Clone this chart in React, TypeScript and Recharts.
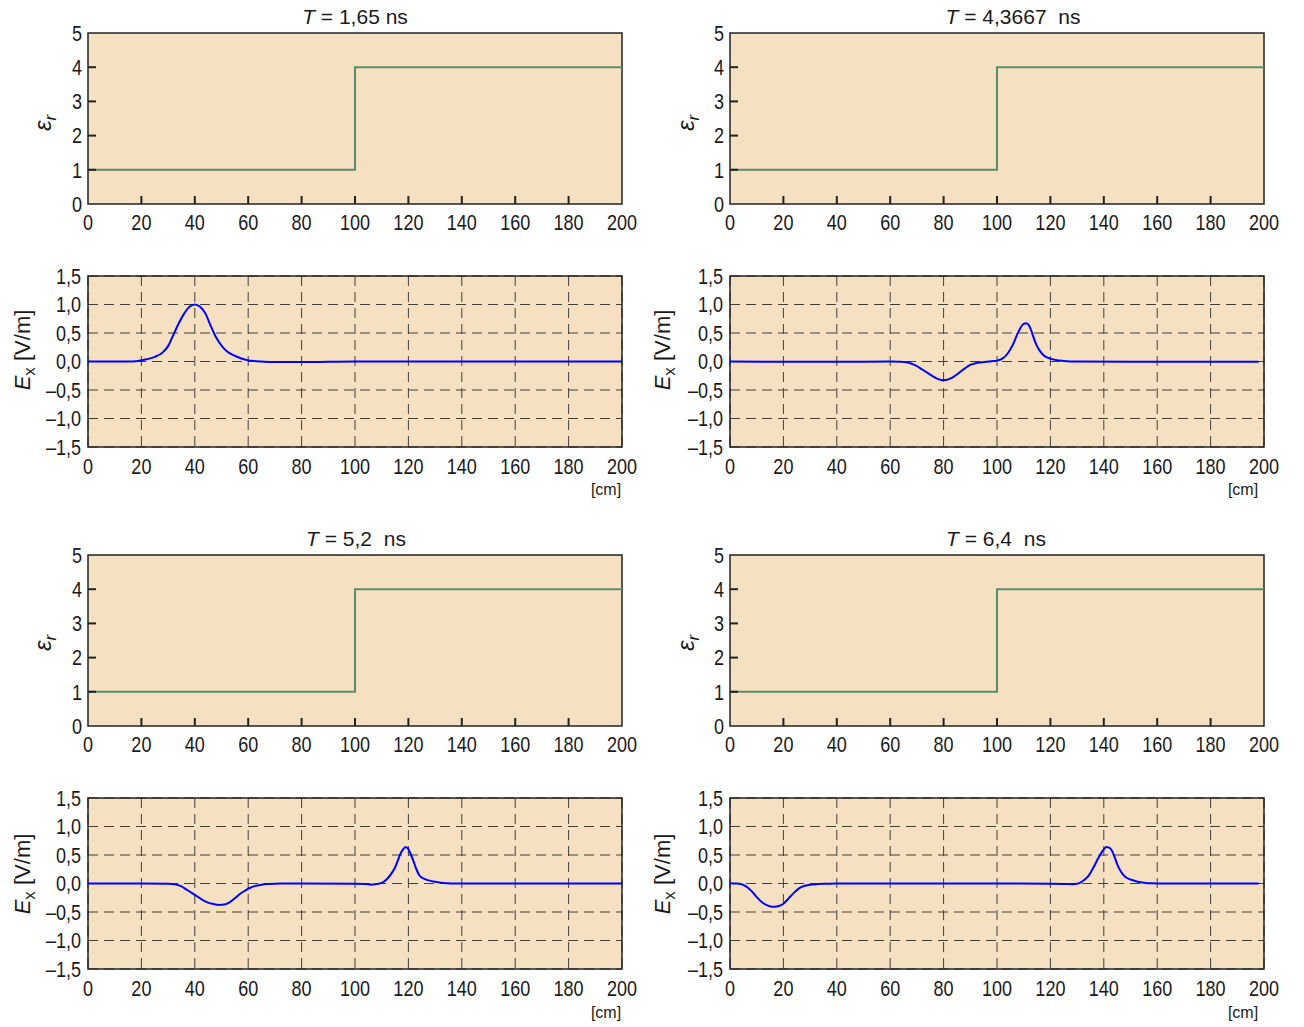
import React from 'react';
import { LineChart, Line, XAxis, YAxis, CartesianGrid, ReferenceArea } from 'recharts';

// axis ticks
const xTicks = [0, 20, 40, 60, 80, 100, 120, 140, 160, 180, 200];
const epsTicks = [0, 1, 2, 3, 4, 5];
const exTicks = [-1.5, -1, -0.5, 0, 0.5, 1, 1.5];

// permittivity profile (same in all four snapshots)
const epsX = [0, 100, 100, 200];
const epsY = [1, 1, 4, 4];

// E_x snapshots
const ex1X = [0, 10, 15, 18, 20, 22, 25, 28, 30, 32, 34, 36, 38, 40, 42, 44, 46, 48, 50, 52, 54, 56, 58, 60, 63, 66, 70, 80, 90, 100, 120, 140, 160, 180, 200];
const ex1Y = [0, 0, 0, 0.005, 0.02, 0.04, 0.08, 0.16, 0.27, 0.47, 0.67, 0.84, 0.96, 1.0, 0.96, 0.84, 0.62, 0.42, 0.28, 0.18, 0.12, 0.08, 0.045, 0.02, 0.005, -0.005, -0.01, -0.01, -0.005, 0, 0, 0, 0, 0, 0];

const ex2X = [0, 20, 40, 60, 64, 66, 68, 70, 72, 74, 76, 78, 80, 82, 84, 86, 88, 90, 92, 94, 96, 98, 100, 102, 104, 106, 108, 110, 111, 112, 113, 114, 115, 116, 117, 118, 120, 122, 125, 130, 150, 170, 198];
const ex2Y = [0, -0.005, -0.005, 0, -0.005, -0.015, -0.04, -0.08, -0.14, -0.2, -0.26, -0.31, -0.33, -0.31, -0.26, -0.19, -0.12, -0.06, -0.03, -0.015, -0.005, 0.005, 0.015, 0.05, 0.14, 0.3, 0.52, 0.66, 0.67, 0.63, 0.52, 0.38, 0.27, 0.19, 0.13, 0.09, 0.05, 0.025, 0.01, 0, -0.005, -0.005, -0.005];

const ex3X = [0, 20, 30, 33, 35, 37, 39, 41, 43, 45, 47, 49, 51, 53, 55, 57, 59, 61, 63, 65, 68, 72, 80, 100, 104, 106, 108, 110, 112, 114, 115, 116, 117, 118, 119, 120, 121, 122, 123, 124, 126, 128, 130, 133, 136, 160, 200];
const ex3Y = [0, 0, -0.005, -0.02, -0.05, -0.11, -0.17, -0.23, -0.29, -0.335, -0.36, -0.375, -0.37, -0.33, -0.26, -0.18, -0.12, -0.07, -0.04, -0.02, -0.008, 0, 0, -0.005, -0.01, -0.02, -0.01, 0.01, 0.08, 0.2, 0.28, 0.4, 0.52, 0.6, 0.64, 0.6, 0.5, 0.38, 0.25, 0.15, 0.08, 0.05, 0.03, 0.008, 0, 0, 0];

const ex4X = [0, 2, 4, 6, 8, 10, 12, 14, 16, 18, 20, 22, 24, 26, 28, 30, 33, 36, 40, 60, 80, 100, 120, 126, 128, 130, 132, 134, 136, 138, 140, 141, 142, 143, 144, 145, 146, 147, 148, 150, 152, 155, 158, 162, 180, 198];
const ex4Y = [0.005, 0, -0.01, -0.05, -0.13, -0.24, -0.33, -0.385, -0.41, -0.4, -0.355, -0.26, -0.16, -0.08, -0.04, -0.02, -0.01, -0.005, 0, 0, 0, 0, -0.005, -0.01, -0.012, -0.005, 0.04, 0.12, 0.27, 0.45, 0.6, 0.64, 0.63, 0.58, 0.47, 0.34, 0.24, 0.17, 0.12, 0.07, 0.04, 0.015, 0.003, 0, 0, 0];

const titles = ['1,65 ns', '4,3667  ns', '5,2  ns', '6,4  ns'];

const BG = '#F5E1C2';
const INK = '#1a1a1a';
const BORDER = '#222';
const TICK_SIZE = 22;
const SQUEEZE = 0.82;
const TICK_LEN = 8;
const AXIS_W = 88;
const PLOT_W = 534;
const PLOT_H = 171;
const TOP_M = 14;
const BOT_H = 40;
const CHART_W = AXIS_W + PLOT_W + 30;

const fmtEx = (v: number) => v.toFixed(1).replace('.', ',').replace('-', '\u2013');

const toRows = (xs: number[], ys: number[]) => xs.map((x, i) => ({ x, y: ys[i] }));

const X_MARGIN = 10;
const X_MARGIN_EX = 11;
const Y_MARGIN = 6;
const Y_MARGIN_EX = 7;

// condensed tick text, like the narrow face of the original
const TickText = ({ x, y, anchor, dy, children }: { x: number; y: number; anchor: 'middle' | 'end'; dy: string; children: React.ReactNode }) => (
  <text transform={`translate(${x},${y}) scale(${SQUEEZE},1)`} x={0} y={0} dy={dy} textAnchor={anchor}
    fill={INK} fontSize={TICK_SIZE}>{children}</text>
);

const EpsXTick = (props: any) => {
  const { x, y, payload } = props;
  const axisY = y - X_MARGIN;
  const inner = payload.value > 0 && payload.value < 200;
  return (
    <g>
      {inner && <path d={`M${x},${axisY}V${axisY - TICK_LEN}`} stroke={BORDER} strokeWidth={2} />}
      <TickText x={x} y={y} anchor="middle" dy="0.71em">{payload.value}</TickText>
    </g>
  );
};

const EpsTopTick = (props: any) => {
  const { x, y, payload } = props;
  if (payload.value <= 0 || payload.value >= 200) return <g />;
  return <path d={`M${x},${y}V${y + TICK_LEN}`} stroke={BORDER} strokeWidth={2} />;
};

const EpsYTick = (props: any) => {
  const { x, y, payload } = props;
  const axisX = x + Y_MARGIN;
  const inner = payload.value > 0 && payload.value < 5;
  return (
    <g>
      {inner && <path d={`M${axisX},${y}H${axisX + TICK_LEN}`} stroke={BORDER} strokeWidth={2} />}
      <TickText x={x} y={y} anchor="end" dy="0.355em">{payload.value}</TickText>
    </g>
  );
};

const ExXTick = (props: any) => (
  <TickText x={props.x} y={props.y} anchor="middle" dy="0.71em">{props.payload.value}</TickText>
);

const ExYTick = (props: any) => (
  <TickText x={props.x} y={props.y} anchor="end" dy="0.355em">{fmtEx(props.payload.value)}</TickText>
);

const PlotBg = ({ left, top }: { left: number; top: number }) => (
  <div style={{ position: 'absolute', left: left + AXIS_W, top, width: PLOT_W, height: PLOT_H, background: BG }} />
);

const EpsPanel = ({ left, top }: { left: number; top: number }) => (
  <>
    <PlotBg left={left} top={top} />
    <div style={{ position: 'absolute', left, top: top - TOP_M }}>
      <LineChart width={CHART_W} height={PLOT_H + BOT_H + TOP_M} data={toRows(epsX, epsY)} margin={{ top: TOP_M, right: 30, bottom: 0, left: 0 }}>
        <XAxis dataKey="x" type="number" domain={[0, 200]} ticks={xTicks} interval={0} height={BOT_H}
          axisLine={false} tickLine={false} tickSize={0} tickMargin={X_MARGIN} tick={<EpsXTick />} />
        <XAxis xAxisId="top" dataKey="x" orientation="top" type="number" domain={[0, 200]} ticks={xTicks} interval={0}
          height={0} axisLine={false} tickLine={false} tickSize={0} tickMargin={0} tick={<EpsTopTick />} />
        <YAxis type="number" domain={[0, 5]} ticks={epsTicks} interval={0} width={AXIS_W}
          axisLine={false} tickLine={false} tickSize={0} tickMargin={Y_MARGIN} tick={<EpsYTick />} />
        <Line dataKey="y" type="linear" stroke="#5E8C6A" strokeWidth={2} dot={false} isAnimationActive={false} />
        <ReferenceArea x1={0} x2={200} y1={0} y2={5} fill="none" stroke={BORDER} strokeWidth={1.5} />
      </LineChart>
    </div>
  </>
);

const ExPanel = ({ left, top, xs, ys }: { left: number; top: number; xs: number[]; ys: number[] }) => (
  <>
    <PlotBg left={left} top={top} />
    <div style={{ position: 'absolute', left, top: top - TOP_M }}>
      <LineChart width={CHART_W} height={PLOT_H + BOT_H + TOP_M} data={toRows(xs, ys)} margin={{ top: TOP_M, right: 30, bottom: 0, left: 0 }}>
        <CartesianGrid stroke="#3f3f3f" strokeDasharray="10 6" />
        <XAxis dataKey="x" type="number" domain={[0, 200]} ticks={xTicks} interval={0} height={BOT_H}
          axisLine={false} tickLine={false} tickSize={0} tickMargin={X_MARGIN_EX} tick={<ExXTick />} />
        <YAxis type="number" domain={[-1.5, 1.5]} ticks={exTicks} interval={0} width={AXIS_W}
          axisLine={false} tickLine={false} tickSize={0} tickMargin={Y_MARGIN_EX} tick={<ExYTick />} />
        <Line dataKey="y" type="monotone" stroke="#0000FF" strokeWidth={2} dot={false} isAnimationActive={false} />
        <ReferenceArea x1={0} x2={200} y1={-1.5} y2={1.5} fill="none" stroke={BORDER} strokeWidth={1.5} />
      </LineChart>
    </div>
  </>
);

const VLabel = ({ x, y, size, children }: { x: number; y: number; size: number; children: React.ReactNode }) => (
  <div style={{ position: 'absolute', left: x, top: y, transform: 'translate(-50%, -50%) rotate(-90deg)', whiteSpace: 'nowrap', fontSize: size, color: INK, lineHeight: 1 }}>
    {children}
  </div>
);

const Title = ({ x, y, text }: { x: number; y: number; text: string }) => (
  <div style={{ position: 'absolute', left: x, top: y, transform: 'translate(-50%, -50%)', whiteSpace: 'pre', fontSize: 21, color: INK, lineHeight: 1 }}>
    <i>T</i>{' = ' + text}
  </div>
);

const Unit = ({ x, y }: { x: number; y: number }) => (
  <div style={{ position: 'absolute', left: x, top: y, transform: 'translate(-50%, -50%)', fontSize: 16, color: INK, lineHeight: 1 }}>[cm]</div>
);

const EpsLabel = () => (<span><i>ε</i><sub style={{ fontSize: 17 }}><i>r</i></sub></span>);
const ExLabel = () => (<span><i>E</i><sub style={{ fontSize: 17 }}>x</sub> [V/m]</span>);

export default function App() {
  return (
    <div style={{ position: 'absolute', left: 0, top: 0, width: 1304, height: 1027, background: '#fff', fontFamily: '"Liberation Sans", Arial, sans-serif' }}>
      <Title x={355} y={16} text={titles[0]} />
      <Title x={1013} y={16} text={titles[1]} />
      <Title x={356} y={538} text={titles[2]} />
      <Title x={996} y={538} text={titles[3]} />

      <EpsPanel left={0} top={33} />
      <EpsPanel left={642} top={33} />
      <ExPanel left={0} top={276} xs={ex1X} ys={ex1Y} />
      <ExPanel left={642} top={276} xs={ex2X} ys={ex2Y} />
      <EpsPanel left={0} top={555} />
      <EpsPanel left={642} top={555} />
      <ExPanel left={0} top={798} xs={ex3X} ys={ex3Y} />
      <ExPanel left={642} top={798} xs={ex4X} ys={ex4Y} />

      <VLabel x={45} y={123} size={24}><EpsLabel /></VLabel>
      <VLabel x={688} y={123} size={24}><EpsLabel /></VLabel>
      <VLabel x={45} y={643} size={24}><EpsLabel /></VLabel>
      <VLabel x={688} y={643} size={24}><EpsLabel /></VLabel>
      <VLabel x={25} y={350} size={22}><ExLabel /></VLabel>
      <VLabel x={665} y={350} size={22}><ExLabel /></VLabel>
      <VLabel x={25} y={874} size={22}><ExLabel /></VLabel>
      <VLabel x={665} y={874} size={22}><ExLabel /></VLabel>

      <Unit x={606} y={490} />
      <Unit x={1243} y={490} />
      <Unit x={606} y={1013} />
      <Unit x={1243} y={1013} />
    </div>
  );
}
